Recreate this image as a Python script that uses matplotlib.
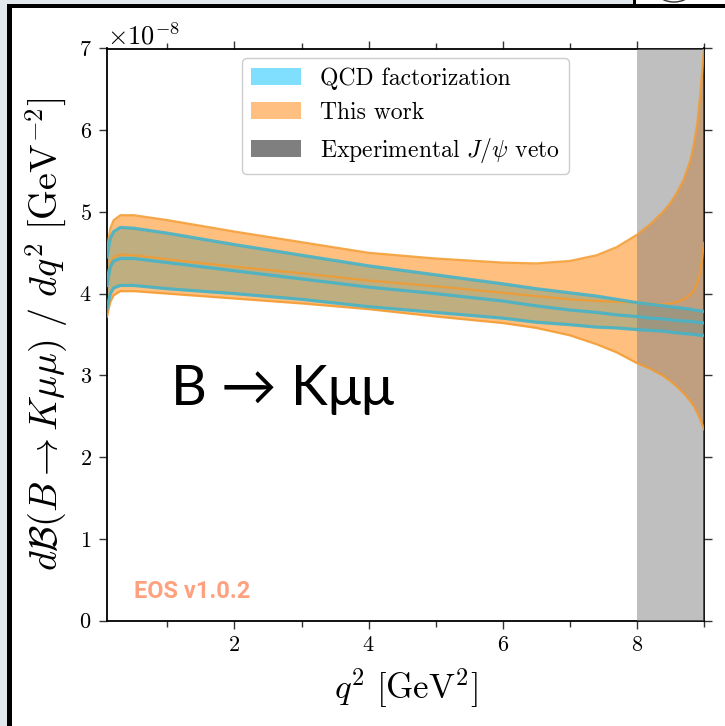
import matplotlib
matplotlib.use("Agg")
import matplotlib.pyplot as plt
from matplotlib.patches import Patch, Rectangle, Arc
import numpy as np

# ---------------- data (values in units of 1e-8 GeV^-2) ----------------
q2 = [0.1, 0.15, 0.2, 0.3, 0.5, 1.0, 2.0, 3.0, 4.0, 5.0, 6.0, 6.5, 7.0, 7.4,
      7.7, 8.0, 8.2, 8.4, 8.5, 8.6, 8.7, 8.8, 8.85, 8.9, 8.95, 9.0]
this_upper = [4.55, 4.80, 4.90, 4.96, 4.96, 4.90, 4.76, 4.63, 4.50, 4.43, 4.38, 4.37,
              4.40, 4.47, 4.57, 4.72, 4.85, 5.01, 5.11, 5.24, 5.40, 5.64, 5.83, 6.08, 6.48, 7.00]
this_central = [4.20, 4.38, 4.45, 4.48, 4.47, 4.42, 4.33, 4.25, 4.16, 4.09, 4.01, 3.97,
                3.93, 3.91, 3.90, 3.89, 3.875, 3.87, 3.88, 3.90, 3.93, 3.99, 4.04, 4.13, 4.28, 4.62]
this_lower = [3.72, 3.90, 3.98, 4.03, 4.03, 4.00, 3.94, 3.88, 3.81, 3.72, 3.64, 3.58,
              3.49, 3.38, 3.28, 3.15, 3.08, 2.99, 2.93, 2.86, 2.78, 2.68, 2.62, 2.54, 2.45, 2.34]
qcdf_upper = [4.45, 4.68, 4.76, 4.81, 4.80, 4.74, 4.60, 4.47, 4.34, 4.23, 4.12, 4.06,
              4.01, 3.97, 3.93, 3.89, 3.87, 3.85, 3.84, 3.83, 3.82, 3.81, 3.80, 3.795, 3.79, 3.78]
qcdf_central = [4.10, 4.33, 4.40, 4.43, 4.43, 4.38, 4.28, 4.18, 4.08, 4.00, 3.91, 3.85,
                3.80, 3.77, 3.74, 3.72, 3.70, 3.69, 3.68, 3.67, 3.665, 3.66, 3.655, 3.65, 3.645, 3.64]
qcdf_lower = [3.82, 4.00, 4.07, 4.10, 4.10, 4.06, 4.00, 3.93, 3.84, 3.77, 3.70, 3.65,
              3.62, 3.59, 3.58, 3.56, 3.55, 3.54, 3.53, 3.52, 3.51, 3.505, 3.50, 3.495, 3.49, 3.49]
veto_range = [8.0, 9.0]
scale = 1e-8
legend_labels = ["QCD factorization", "This work", r"Experimental $J/\psi$ veto"]

# ---------------- style ----------------
plt.rcParams["font.family"] = "serif"
plt.rcParams["font.serif"] = ["cmr10", "DejaVu Serif"]
plt.rcParams["mathtext.fontset"] = "cm"
plt.rcParams["axes.formatter.use_mathtext"] = True
plt.rcParams["axes.unicode_minus"] = False

fig = plt.figure(figsize=(7.25, 7.26), dpi=100)
W, H = 725, 726
ax = fig.add_axes([107 / W, 1 - 620.5 / H, (704 - 107) / W, (620.5 - 48.5) / H])

x = np.array(q2)
s = lambda a: np.array(a) * scale

c_qcd = (0.0, 0.75, 1.0)
c_orange = (1.0, 0.5, 0.0)

ax.fill_between(x, s(qcdf_lower), s(qcdf_upper), color=c_qcd, alpha=0.5, lw=0, zorder=1)
ax.fill_between(x, s(this_lower), s(this_upper), color=c_orange, alpha=0.5, lw=0, zorder=2)
ax.axvspan(veto_range[0], veto_range[1], color="grey", alpha=0.5, lw=0, zorder=3)

for arr in (this_upper, this_central, this_lower):
    ax.plot(x, s(arr), color="#f39a2e", lw=1.6, alpha=0.85, zorder=4)
for arr in (qcdf_upper, qcdf_central, qcdf_lower):
    ax.plot(x, s(arr), color="#46b3c8", lw=2.3, alpha=0.9, zorder=5)

ax.set_xlim(0.1, 9.0)
ax.set_ylim(0, 7e-8)
ax.set_xticks([2, 4, 6, 8])
ax.set_xticks([1, 3, 5, 7, 9], minor=True)
ax.set_yticks(np.arange(0, 8) * scale)
ax.tick_params(axis="both", which="both", direction="out", top=True, right=True,
               labelsize=16, color="#333333", pad=5)
ax.tick_params(which="major", length=6, width=1.0)
ax.tick_params(which="minor", length=4, width=1.0)
for sp in ax.spines.values():
    sp.set_linewidth(1.3)
ax.yaxis.get_offset_text().set_fontsize(19)

ax.set_xlabel(r"$q^2\ [\mathrm{GeV}^2]$", fontsize=25, labelpad=8)
ax.set_ylabel(r"$d\mathcal{B}(B \to K\mu\mu)\ /\ dq^2\ [\mathrm{GeV}^{-2}]$", fontsize=27.5, labelpad=6)

handles = [Patch(facecolor="#80dfff", edgecolor="none"),
           Patch(facecolor="#ffbf80", edgecolor="none"),
           Patch(facecolor="#7f7f7f", edgecolor="none")]
leg = ax.legend(handles, legend_labels, loc="upper center", fontsize=17,
                frameon=True, fancybox=True, edgecolor="#cccccc", framealpha=1.0,
                borderaxespad=0.4, handlelength=2.1)
leg.set_zorder(10)

ax.text(0.045, 0.04, "EOS v1.0.2", transform=ax.transAxes, color="#ff4500", alpha=0.5,
        fontsize=17, fontweight="bold", family=["Roboto", "DejaVu Sans"], zorder=6)

ax.text(1.05, 2.64e-8, "B → Kμμ", fontsize=40, family=["Lato", "DejaVu Sans"],
        color="black", va="baseline", ha="left", zorder=6)

# ---------------- screenshot frame ----------------
def px_rect(x0, y0, w, h, color):
    fig.patches.append(Rectangle((x0 / W, 1 - (y0 + h) / H), w / W, h / H,
                                 transform=fig.transFigure, color=color, lw=0, zorder=20))

gray = "#e3e8ec"
px_rect(0, 0, 7, H, gray)
px_rect(0, 0, 634, 4.5, gray)
px_rect(7, 4.5, 4.5, H - 4.5, "black")
px_rect(7, 4.0, W - 7, 3.7, "black")
px_rect(633, 0, 2.5, 5, "black")
fig.patches.append(Arc((674 / W, 1 - (-6) / H), 30 / W, 16 / H, theta1=180, theta2=360,
                       transform=fig.transFigure, color="#333333", lw=1.0, zorder=19))

fig.savefig("out.png", dpi=100)
